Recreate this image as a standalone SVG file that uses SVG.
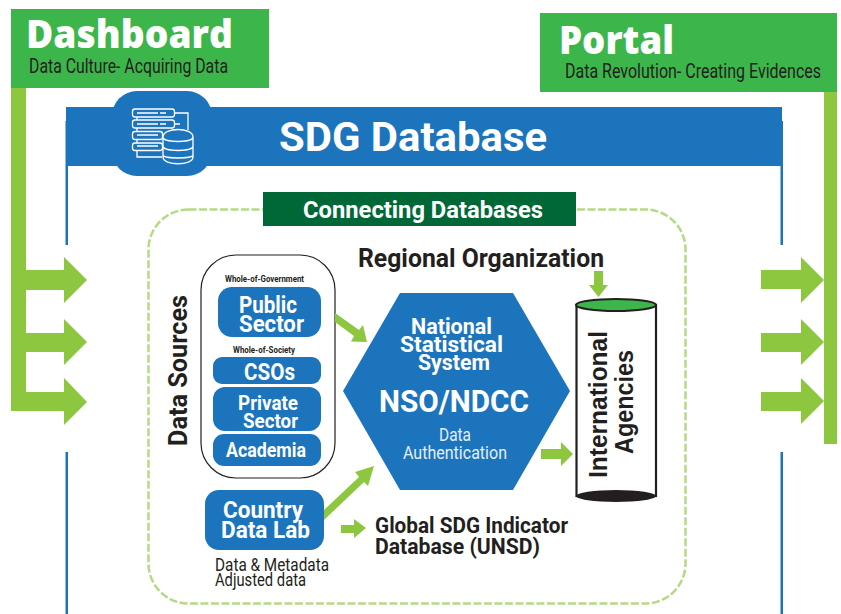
<svg xmlns="http://www.w3.org/2000/svg" width="841" height="614" viewBox="0 0 841 614">
<style>
text{font-family:"Roboto","Liberation Sans",sans-serif}
.h{font-weight:700;fill:#fff}
.k{font-weight:700;fill:#231f20}
.n{font-weight:400;fill:#231f20}
.l{font-weight:400;fill:#e4eef8}
.o{font-family:"Open Sans","Liberation Sans",sans-serif;font-weight:800;fill:#fff}
.c{font-family:"Liberation Sans",sans-serif;font-weight:700;fill:#231f20}
.b{fill:#1c75bc}
.g{fill:#3cb54a}
.a{fill:#8dc63f}
.i{fill:none;stroke:#fff;stroke-width:1.300}
</style>
<g id="frame">
<rect class="b" x="66" y="107" width="716" height="59"/>
<rect class="b" x="65.500" y="121" width="2.500" height="124"/>
<rect class="b" x="780.500" y="121" width="2.500" height="124"/>
<rect class="b" x="65.500" y="452" width="2.500" height="162"/>
<rect class="b" x="780.500" y="452" width="2.500" height="162"/>
<rect x="148.500" y="209.500" width="537" height="394" rx="40" fill="none" stroke="#b5da85" stroke-width="2.500" stroke-dasharray="8 2.500"/>
</g>
<g id="dashboard">
<rect class="a" x="11" y="88" width="15" height="323"/>
<rect class="g" x="11" y="9" width="258" height="79"/>
<text class="o" x="26" y="48" font-size="38" textLength="207" lengthAdjust="spacingAndGlyphs">Dashboard</text>
<text class="n" x="29" y="73" font-size="21" textLength="199" lengthAdjust="spacingAndGlyphs">Data Culture- Acquiring Data</text>
</g>
<g id="portal">
<rect class="a" x="824" y="92" width="13" height="352"/>
<rect class="g" x="540" y="13" width="297" height="79"/>
<text class="o" x="559" y="54" font-size="38" textLength="115" lengthAdjust="spacingAndGlyphs">Portal</text>
<text class="n" x="565" y="78" font-size="21" textLength="256" lengthAdjust="spacingAndGlyphs">Data Revolution- Creating Evidences</text>
</g>
<g id="side-arrows">
<path class="a" d="M26 270H64V257L87 280L64 303V290H26Z"/>
<path class="a" d="M26 333H64V319L87 342L64 365V352H26Z"/>
<path class="a" d="M26 392H64V378L87 402L64 425V411H26Z"/>
<path class="a" d="M761 270H801V257L824 280L801 303V289H761Z"/>
<path class="a" d="M761 333H801V319L824 342L801 365V352H761Z"/>
<path class="a" d="M761 392H801V378L824 401L801 424V411H761Z"/>
</g>
<g id="sdg-database">
<rect class="b" x="112" y="91" width="100" height="85" rx="25"/>
<g class="i">
<rect x="132.500" y="109" width="42" height="8" rx="2.500"/>
<rect x="132.500" y="120" width="42" height="8" rx="2.500"/>
<rect x="132.500" y="131.500" width="30" height="8" rx="2.500"/>
<rect x="132.500" y="143" width="30" height="7.500" rx="2.500"/>
<path d="M174.500 113H188V130M174.500 124H180M137 117V120M137 128V131.500M137 139.500V143M137 150.500V157H162"/>
<path d="M137 113H158M137 124H158M137 135H158M137 146H158M160 113H166M160 124H166"/>
<path d="M163 137C163 127 193 127 193 137V157C193 166 163 166 163 157ZM163 137C163 143 193 143 193 137M163 146C163 152 193 152 193 146M163 155C163 159 193 159 193 155" fill="#1c75bc"/>
</g>
<text class="h" x="279" y="151" font-size="40" textLength="268" lengthAdjust="spacingAndGlyphs">SDG Database</text>
</g>
<g id="connecting-databases">
<rect x="263" y="192" width="313" height="34" fill="#006837"/>
<text class="h" x="303" y="218" font-size="23" textLength="240" lengthAdjust="spacingAndGlyphs">Connecting Databases</text>
</g>
<g id="regional-organization"><text class="k" x="358" y="267" font-size="25" textLength="246" lengthAdjust="spacingAndGlyphs">Regional Organization</text></g>
<g id="data-sources">
<text class="k" transform="translate(187 446) rotate(-90)" font-size="26" textLength="151" lengthAdjust="spacingAndGlyphs">Data Sources</text>
<rect x="201" y="255" width="134" height="223" rx="35" fill="#fff" stroke="#231f20" stroke-width="1.200"/>
<text class="k" x="225" y="282" font-size="8.500" textLength="79" lengthAdjust="spacingAndGlyphs">Whole-of-Government</text>
<text class="k" x="233" y="353" font-size="8.500" textLength="62" lengthAdjust="spacingAndGlyphs">Whole-of-Society</text>
</g>
<g id="public-sector">
<rect class="b" x="218" y="287" width="103" height="50" rx="14"/>
<text class="h" x="239" y="313" font-size="23" textLength="58" lengthAdjust="spacingAndGlyphs">Public</text>
<text class="h" x="239" y="332" font-size="23" textLength="65" lengthAdjust="spacingAndGlyphs">Sector</text>
</g>
<g id="csos">
<rect class="b" x="213" y="357" width="108" height="27" rx="9"/>
<text class="h" x="244" y="380" font-size="23" textLength="51" lengthAdjust="spacingAndGlyphs">CSOs</text>
</g>
<g id="private-sector">
<rect class="b" x="213" y="387" width="108" height="44" rx="12"/>
<text class="h" x="238" y="410" font-size="20" textLength="60" lengthAdjust="spacingAndGlyphs">Private</text>
<text class="h" x="243" y="428" font-size="20" textLength="55" lengthAdjust="spacingAndGlyphs">Sector</text>
</g>
<g id="academia">
<rect class="b" x="213" y="434" width="108" height="32" rx="11"/>
<text class="h" x="226" y="457" font-size="20" textLength="80" lengthAdjust="spacingAndGlyphs">Academia</text>
</g>
<g id="country-data-lab">
<rect class="b" x="205" y="490" width="119" height="60" rx="14"/>
<text class="h" x="223" y="518" font-size="24" textLength="80" lengthAdjust="spacingAndGlyphs">Country</text>
<text class="h" x="221" y="538" font-size="24" textLength="89" lengthAdjust="spacingAndGlyphs">Data Lab</text>
<text class="n" x="215" y="571" font-size="18" textLength="114" lengthAdjust="spacingAndGlyphs">Data &amp; Metadata</text>
<text class="n" x="215" y="586" font-size="18" textLength="91" lengthAdjust="spacingAndGlyphs">Adjusted data</text>
</g>
<g id="national-statistical-system">
<path class="b" d="M343 391L400 293H513L570 391L513 490H400Z"/>
<text class="h" x="411" y="334" font-size="22" textLength="81" lengthAdjust="spacingAndGlyphs">National</text>
<text class="h" x="400" y="352" font-size="22" textLength="103" lengthAdjust="spacingAndGlyphs">Statistical</text>
<text class="h" x="418" y="370" font-size="22" textLength="72" lengthAdjust="spacingAndGlyphs">System</text>
<text class="h" x="379" y="412" font-size="32" textLength="150" lengthAdjust="spacingAndGlyphs">NSO/NDCC</text>
<text class="l" x="439" y="441" font-size="18" textLength="32" lengthAdjust="spacingAndGlyphs">Data</text>
<text class="l" x="403" y="459" font-size="18" textLength="104" lengthAdjust="spacingAndGlyphs">Authentication</text>
</g>
<g id="international-agencies">
<rect x="576.500" y="305" width="79.500" height="191" fill="#fff" stroke="#231f20" stroke-width="2.200"/>
<ellipse cx="616" cy="305" rx="40" ry="6" fill="#3cb54a" stroke="#231f20" stroke-width="2.200"/>
<ellipse cx="616" cy="496" rx="40" ry="6" fill="#231f20"/>
<text class="c" transform="translate(607 478) rotate(-90)" font-size="26" textLength="147" lengthAdjust="spacingAndGlyphs">International</text>
<text class="c" transform="translate(633 454) rotate(-90)" font-size="26" textLength="104" lengthAdjust="spacingAndGlyphs">Agencies</text>
</g>
<g id="global-sdg-indicator">
<text class="k" x="375" y="533" font-size="22" textLength="193" lengthAdjust="spacingAndGlyphs">Global SDG Indicator</text>
<text class="k" x="375" y="554" font-size="22" textLength="165" lengthAdjust="spacingAndGlyphs">Database (UNSD)</text>
</g>
<g id="connectors">
<path class="a" d="M335 313L338 315L359 330L363 325L367 342L351 341.500L354 336L335 322Z"/>
<path class="a" d="M324 510L359 477L355 472L374 466L368 486L364 482L324 520Z"/>
<path class="a" d="M341 525H354V519L366 528L354 538V533H341Z"/>
<path class="a" d="M594 271H603V285H608L598.500 297L589 285H594Z"/>
<path class="a" d="M541 449H561V442L573 454L561 466V459H541Z"/>
</g>
</svg>
